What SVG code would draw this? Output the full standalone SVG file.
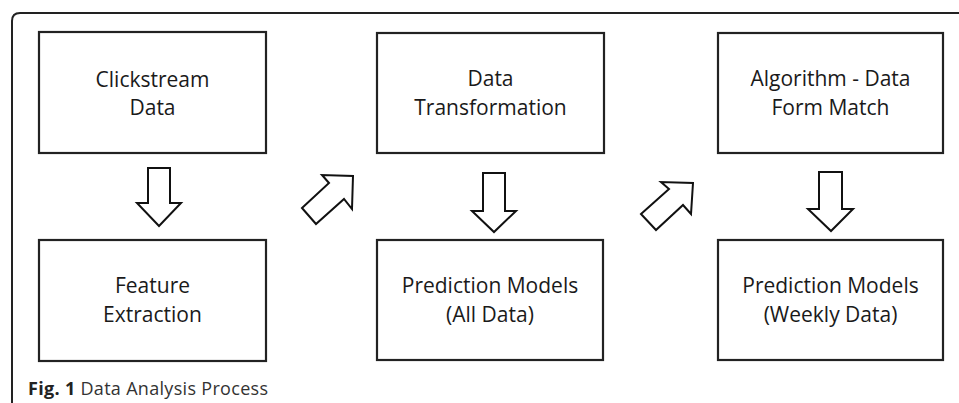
<svg xmlns="http://www.w3.org/2000/svg" width="959" height="403" viewBox="0 0 959 403">
<style>
.box{fill:#fff;stroke:#222;stroke-width:2.2}
.arr{fill:#fff;stroke:#111;stroke-width:2;stroke-linejoin:miter}
.t{font-family:"Open Sans","Noto Sans",sans-serif;font-size:21px;fill:#1a1a1a;text-anchor:middle}
.cap{font-family:"Open Sans","Noto Sans",sans-serif;font-size:18px;fill:#333}
</style>
<rect width="959" height="403" fill="#fff"/>
<path d="M12,403 V21 Q12,13 20,13 H959" fill="none" stroke="#222" stroke-width="2"/>
<g id="n1"><rect class="box" x="39" y="32" width="227" height="121"/><text class="t" x="152.5" y="87">Clickstream</text><text class="t" x="152.5" y="115">Data</text></g>
<g id="n2"><rect class="box" x="39" y="240" width="227" height="121"/><text class="t" x="152.5" y="293">Feature</text><text class="t" x="152.5" y="322">Extraction</text></g>
<g id="n3"><rect class="box" x="377" y="33" width="227" height="120"/><text class="t" x="490.5" y="86">Data</text><text class="t" x="490.5" y="115">Transformation</text></g>
<g id="n4"><rect class="box" x="377" y="240" width="226" height="120"/><text class="t" x="490" y="293">Prediction Models</text><text class="t" x="490" y="322">(All Data)</text></g>
<g id="n5"><rect class="box" x="718" y="33" width="225" height="120"/><text class="t" x="830.5" y="86">Algorithm - Data</text><text class="t" x="830.5" y="115">Form Match</text></g>
<g id="n6"><rect class="box" x="718" y="240" width="225" height="120"/><text class="t" x="830.5" y="293">Prediction Models</text><text class="t" x="830.5" y="322">(Weekly Data)</text></g>
<g id="connectors">
<polygon class="arr" points="148,168 170,168 170,203 181,203 159,226 137,203 148,203"/>
<polygon class="arr" points="483,173 505,173 505,211 516,211 494,232 472,211 483,211"/>
<polygon class="arr" points="819,172 842,172 842,209 853,209 831,231 808,209 819,209"/>
<polygon class="arr" points="302,208 329,183 322,175 353,176 352,209 344,199 316,224"/>
<polygon class="arr" points="641,214 669,189 661,182 693,183 691,214 683,205 656,230"/>
</g>
<text class="cap" x="28" y="395" textLength="240" lengthAdjust="spacing"><tspan font-weight="bold" fill="#222">Fig. 1</tspan> Data Analysis Process</text>
</svg>
